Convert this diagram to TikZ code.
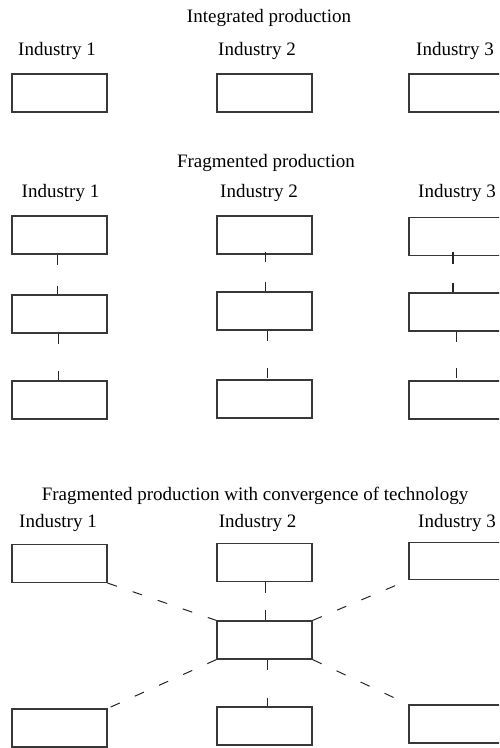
\documentclass[tikz,border=0pt]{standalone}
\usepackage{fontspec}
\setmainfont{Liberation Serif}
\begin{document}
\begin{tikzpicture}[x=1pt,y=-1pt,
  box/.style={draw=black!78,line width=1.1pt,minimum width=95pt,minimum height=38pt,inner sep=0pt},
  lbl/.style={anchor=base,inner sep=0pt,font=\fontsize{19}{23}\selectfont},
  link/.style={draw=black!85,line width=1pt}]
\useasboundingbox (0,0) rectangle (499,748);
\clip (0,0) rectangle (499,748);
% Section 1
\node[lbl] (t1) at (269,22) {Integrated production};
\node[lbl] (a1) at (57,55) {Industry 1};
\node[lbl] (a2) at (257,55) {Industry 2};
\node[lbl] (a3) at (455,55) {Industry 3};
\node[box] (s1a) at (59.5,93) {};
\node[box] (s1b) at (264.5,93) {};
\node[box] (s1c) at (456.5,93) {};
% Section 2
\node[lbl] (t2) at (266,167.7) {Fragmented production};
\node[lbl] (b1) at (60.5,197.3) {Industry 1};
\node[lbl] (b2) at (259,197.3) {Industry 2};
\node[lbl] (b3) at (457,197.3) {Industry 3};
\node[box] (p11) at (59.5,235) {};
\node[box] (p12) at (59.5,314) {};
\node[box] (p13) at (59.5,400) {};
\node[box] (p21) at (264.5,235) {};
\node[box] (p22) at (264.5,311) {};
\node[box] (p23) at (264.5,399) {};
\node[box,line width=1.4pt] (p31) at (456.5,236.5) {};
\node[box] (p32) at (456.5,312) {};
\node[box] (p33) at (456.5,400) {};
\draw[link,dash pattern=on 10pt off 21pt] ([xshift=-2pt]p11.south) -- ([xshift=-2pt]p12.north);
\draw[link,dash pattern=on 10pt off 27pt] ([xshift=-1pt]p12.south) -- ([xshift=-1pt]p13.north);
\draw[link,dash pattern=on 10pt off 20pt] ([xshift=0.5pt,yshift=3pt]p21.south) -- ([xshift=0.5pt]p22.north);
\draw[link,dash pattern=on 10pt off 27pt] ([xshift=2.5pt]p22.south) -- ([xshift=2.5pt]p23.north);
\draw[link,line width=1.4pt,dash pattern=on 11.5pt off 19pt] ([xshift=-3.5pt,yshift=4pt]p31.south) -- ([xshift=-3.5pt]p32.north);
\draw[link,dash pattern=on 10pt off 26pt] ([xshift=0pt]p32.south) -- ([xshift=0pt]p33.north);
% Section 3
\node[lbl] (t3) at (255,500.7) {Fragmented production with convergence of technology};
\node[lbl] (c1) at (58,527.7) {Industry 1};
\node[lbl] (c2) at (257.7,527.7) {Industry 2};
\node[lbl] (c3) at (457,527.7) {Industry 3};
\node[box] (tl) at (59.5,563.5) {};
\node[box] (tm) at (264.5,562.5) {};
\node[box,minimum height=37pt] (tr) at (456.5,561) {};
\node[box] (cc) at (264.5,640) {};
\node[box] (bl) at (59.5,728) {};
\node[box] (bm) at (264.5,726) {};
\node[box] (br) at (456.5,724) {};
\draw[link,dash pattern=on 10pt off 16.5pt] (tl.south east) -- (cc.north west);
\draw[link,dash pattern=on 10pt off 16.5pt] (cc.north east) -- (tr.south west);
\draw[link,dash pattern=on 10pt off 16.5pt] (cc.south west) -- (bl.north east);
\draw[link,dash pattern=on 10pt off 16.5pt] (cc.south east) -- (br.north west);
\draw[link,dash pattern=on 10.7pt off 17.3pt] ([xshift=1pt]tm.south) -- ([xshift=1pt]cc.north);
\draw[link,dash pattern=on 10pt off 28pt] ([xshift=2.5pt]cc.south) -- ([xshift=2.5pt]bm.north);
\end{tikzpicture}
\end{document}
